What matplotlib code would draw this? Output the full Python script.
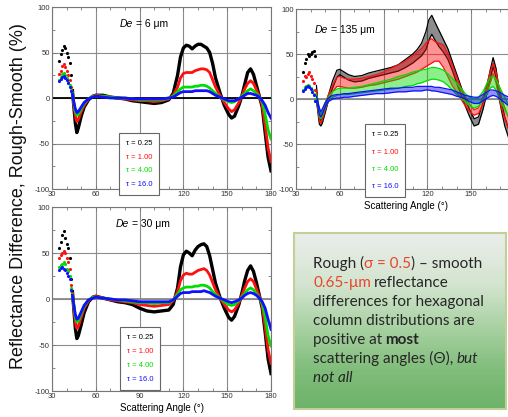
import numpy as np
import matplotlib
matplotlib.use("Agg")
import matplotlib.pyplot as plt
from matplotlib.colors import LinearSegmentedColormap
from matplotlib.lines import Line2D
from matplotlib.ticker import MultipleLocator, FixedLocator

plt.rcParams["font.family"] = ["Liberation Sans", "DejaVu Sans"]
plt.rcParams["axes.unicode_minus"] = False

# ---- data ----
taus = ["\u03c4 = 0.25", "\u03c4 = 1.00", "\u03c4 = 4.00", "\u03c4 = 16.0"]
colors = ["#000000", "#ff1010", "#00dd00", "#1010ff"]

ang_sparse = [35, 36, 37, 38, 39, 40, 41, 42, 43]
ang_main = [44, 45, 46, 47, 48, 50, 52, 55, 58, 60, 65, 70, 75, 80, 85, 90, 95, 100,
            105, 110, 113, 116, 118, 120, 122, 124, 126, 128, 130, 132, 134, 136,
            138, 140, 142, 145, 148, 151, 153, 155, 158, 160, 162, 164, 166, 168,
            170, 172, 174, 176, 178, 180]

# De = 6 um
de6_sp_k = [41, 48, 53, 57, 55, 50, 45, 38, 25]
de6_sp_r = [26, 30, 35, 37, 34, 30, 25, 20, 12]
de6_sp_g = [20, 23, 26, 27, 25, 22, 18, 14, 9]
de6_sp_b = [19, 21, 23, 24, 22, 20, 16, 12, 8]
de6_k = [8, -10, -28, -38, -33, -20, -10, -2, 2, 3, 3, 1, 0, -1, -3, -4, -5, -6,
         -5, -2, 5, 25, 45, 55, 58, 57, 54, 57, 59, 59, 57, 55,
         50, 38, 22, 6, -8, -18, -22, -20, -8, 2, 15, 28, 32, 26,
         14, 2, -10, -38, -65, -80]
de6_r = [6, -8, -20, -26, -24, -15, -8, -1, 2, 3, 2, 1, 0, -1, -2, -3, -3, -4,
         -3, -1, 3, 12, 22, 27, 28, 28, 28, 30, 31, 32, 32, 31,
         28, 20, 12, 3, -5, -12, -15, -13, -5, 2, 10, 16, 19, 16,
         9, 2, -8, -30, -55, -70]
de6_g = [5, -6, -15, -19, -18, -12, -6, -1, 2, 2, 2, 1, 0, 0, -1, -2, -2, -2,
         -2, 0, 2, 7, 10, 12, 12, 12, 12, 13, 13, 14, 14, 13,
         11, 8, 5, 1, -2, -4, -5, -4, -1, 2, 5, 8, 10, 8,
         5, 1, -4, -18, -35, -45]
de6_b = [4, -5, -12, -16, -15, -10, -5, -1, 1, 2, 1, 0, 0, 0, -1, -1, -1, -1,
         -1, 0, 1, 4, 6, 7, 7, 7, 7, 8, 8, 8, 8, 8,
         7, 5, 3, 1, -1, -3, -3, -3, -1, 1, 3, 5, 5, 4,
         3, 1, -3, -8, -16, -22]

# De = 30 um
de30_sp_k = [55, 62, 70, 74, 66, 60, 55, 45, 22]
de30_sp_r = [45, 48, 50, 52, 50, 45, 40, 33, 15]
de30_sp_g = [35, 37, 38, 40, 38, 33, 30, 25, 12]
de30_sp_b = [32, 34, 35, 33, 31, 28, 25, 22, 10]
de30_k = [8, -12, -32, -43, -40, -28, -15, -3, 2, 3, 1, -1, -3, -4, -6, -10, -13, -14,
          -13, -12, -6, 12, 35, 48, 52, 50, 47, 53, 57, 59, 60, 57,
          47, 32, 17, 2, -10, -20, -23, -19, -6, 6, 20, 31, 36, 30,
          18, 4, -10, -36, -65, -81]
de30_r = [6, -10, -25, -32, -30, -20, -10, -2, 2, 3, 1, -1, -2, -3, -4, -6, -7, -8,
          -7, -6, -2, 8, 20, 26, 28, 27, 27, 29, 31, 32, 33, 31,
          26, 18, 10, 1, -6, -12, -14, -12, -4, 4, 12, 19, 22, 19,
          11, 3, -8, -30, -55, -70]
de30_g = [5, -8, -20, -25, -24, -16, -8, -1, 2, 2, 1, 0, -1, -2, -3, -4, -4, -5,
          -4, -4, -1, 5, 10, 12, 13, 13, 13, 14, 14, 15, 15, 14,
          12, 8, 5, 1, -3, -6, -7, -6, -2, 2, 6, 10, 12, 10,
          6, 1, -5, -20, -40, -51]
de30_b = [4, -7, -17, -22, -21, -14, -7, -1, 1, 2, 1, 0, -1, -1, -2, -3, -3, -3,
          -3, -3, -1, 3, 6, 7, 7, 7, 8, 8, 8, 8, 9, 8,
          7, 5, 3, 1, -1, -3, -4, -3, -1, 1, 4, 6, 7, 6,
          4, 1, -3, -10, -22, -33]

# De = 135 um (wide bands: low / high edge)
ang_tr = [44, 45, 46, 47, 48, 50, 52, 55, 58, 60, 63, 66, 70, 75, 80, 85, 90, 95,
          100, 105, 110, 113, 116, 119, 121, 123, 125, 128, 131, 134, 137, 140,
          143, 146, 149, 152, 155, 158, 161, 163, 165, 167, 169, 171, 173, 176]
de135_sp_k = [30, 40, 45, 50, 48, 50, 52, 53, 48]
de135_sp_r = [20, 26, 25, 28, 30, 26, 22, 18, 10]
de135_sp_g = [10, 13, 15, 16, 14, 12, 10, 6, 0]
de135_sp_b = [9, 11, 13, 15, 13, 11, 8, 5, -2]
de135_k_lo = [0, -15, -28, -30, -27, -15, -3, 12, 24, 27, 24, 21, 19, 20, 23, 25, 27, 29,
              31, 35, 40, 44, 48, 55, 65, 72, 66, 58, 52, 44, 32, 18,
              5, -8, -20, -30, -28, -12, 8, 22, 36, 24, 2, -15, -30, -45]
de135_k_hi = [15, -5, -18, -24, -20, -8, 3, 20, 32, 33, 30, 27, 25, 26, 29, 31, 33, 35,
              38, 44, 50, 55, 62, 75, 88, 93, 86, 76, 66, 56, 42, 28,
              14, 0, -12, -22, -20, -4, 16, 32, 46, 34, 12, -5, -20, -35]
de135_r_lo = [-3, -12, -24, -27, -23, -12, -2, 8, 14, 14, 13, 12, 12, 13, 15, 16, 18, 20,
              22, 25, 28, 30, 33, 36, 38, 40, 42, 42, 35, 25, 15, 8,
              0, -8, -14, -18, -16, -6, 8, 18, 28, 18, 2, -12, -22, -35]
de135_r_hi = [8, -4, -14, -20, -16, -5, 4, 15, 24, 25, 23, 22, 22, 23, 25, 27, 30, 34,
              38, 42, 48, 52, 56, 62, 65, 67, 64, 62, 60, 50, 38, 25,
              12, 2, -6, -12, -10, 2, 18, 30, 40, 30, 14, 0, -10, -22]
de135_g_lo = [-3, -10, -20, -22, -19, -10, -3, 2, 4, 5, 5, 5, 6, 7, 8, 9, 10, 11,
              12, 14, 15, 17, 18, 20, 21, 22, 22, 21, 19, 15, 10, 5,
              1, -3, -8, -10, -8, -2, 6, 12, 14, 10, 2, -6, -12, -20]
de135_g_hi = [5, -3, -12, -16, -13, -4, 2, 8, 11, 12, 12, 12, 13, 14, 16, 18, 20, 22,
              25, 27, 30, 31, 32, 33, 34, 35, 35, 34, 32, 28, 23, 18,
              12, 6, 2, 0, 2, 8, 18, 24, 26, 22, 15, 8, 2, -8]
de135_b_lo = [-3, -9, -18, -20, -17, -9, -3, 0, 1, 1, 2, 2, 3, 4, 5, 6, 6, 7,
              8, 8, 9, 9, 9, 10, 10, 9, 9, 8, 7, 6, 5, 3,
              2, 0, -3, -5, -5, -2, 1, 3, 4, 3, 1, -2, -4, -8]
de135_b_hi = [3, -3, -10, -14, -11, -4, 1, 4, 5, 5, 6, 6, 7, 8, 9, 10, 11, 12,
              12, 13, 13, 14, 14, 14, 14, 14, 13, 13, 12, 11, 10, 8,
              6, 4, 3, 2, 2, 5, 8, 10, 10, 9, 8, 6, 4, 2]

W, H = 508, 417
fig = plt.figure(figsize=(W / 100, H / 100), dpi=100)


def px_rect(x0, y0, x1, y1):
    return [x0 / W, 1 - y1 / H, (x1 - x0) / W, (y1 - y0) / H]


def put_runs(x, y, runs, size, family):
    # place text pieces one after another on a baseline (pixel coords)
    r = fig.canvas.get_renderer()
    for s, color, weight, style, gap in runs:
        x += gap
        t = fig.text(x / W, 1 - y / H, s, color=color, fontsize=size,
                     fontweight=weight, fontstyle=style, family=family,
                     va="baseline", ha="left")
        x += t.get_window_extent(r).width


def setup(ax, zero_color):
    ax.set_xlim(30, 180)
    ax.set_ylim(-100, 100)
    ax.xaxis.set_major_locator(MultipleLocator(30))
    ax.xaxis.set_minor_locator(MultipleLocator(10))
    ax.yaxis.set_major_locator(MultipleLocator(50))
    ax.yaxis.set_minor_locator(MultipleLocator(25))
    ax.tick_params(which="both", direction="in", top=True, right=True,
                   colors="#777777", labelcolor="#333333", labelsize=5.5,
                   width=0.6, pad=1.5)
    ax.tick_params(which="major", length=3)
    ax.tick_params(which="minor", length=2)
    ax.grid(which="major", color="#8c8c8c", lw=0.8)
    ax.axhline(0, color=zero_color, lw=1.3, zorder=1.6)
    for s in ax.spines.values():
        s.set_color("#777777")
        s.set_linewidth(0.8)
    ax.set_axisbelow(True)


def legend(ax, x0, y1, spacing):
    hs = [Line2D([], [], ls="none") for _ in taus]
    leg = ax.legend(hs, taus, loc="upper left", bbox_to_anchor=(x0, y1),
                    fontsize=5.5, handlelength=0, handletextpad=0,
                    borderpad=0.9, labelspacing=spacing, fancybox=False,
                    framealpha=1, edgecolor="#666666", borderaxespad=0)
    leg.get_frame().set_linewidth(0.8)
    for t, c in zip(leg.get_texts(), colors):
        t.set_color(c)


def draw_lines(ax, sparse, main):
    for sv, mv, c in zip(sparse, main, colors):
        ax.plot(ang_sparse, sv, ls="none", marker=".", ms=2.5, color=c, zorder=3)
        ax.plot(ang_main, mv, color=c, lw=2.4 if c == "#000000" else 2.0,
                solid_joinstyle="round", zorder=3)


# top left: De = 6
ax1 = fig.add_axes(px_rect(52, 7, 271, 189))
setup(ax1, "#000000")
draw_lines(ax1, [de6_sp_k, de6_sp_r, de6_sp_g, de6_sp_b], [de6_k, de6_r, de6_g, de6_b])
legend(ax1, 0.306, 0.31, 0.85)

# top right: De = 135 (panel runs past the right edge, as in the source slide)
ax2 = fig.add_axes(px_rect(296, 9, 515, 189))
setup(ax2, "#8a8a8a")
ax2.xaxis.set_major_locator(FixedLocator([30, 60, 90, 120, 150]))
for sv, lo, hi, c in zip([de135_sp_k, de135_sp_r, de135_sp_g, de135_sp_b],
                         [de135_k_lo, de135_r_lo, de135_g_lo, de135_b_lo],
                         [de135_k_hi, de135_r_hi, de135_g_hi, de135_b_hi], colors):
    ax2.plot(ang_sparse, sv, ls="none", marker=".", ms=2.5, color=c, zorder=3)
    ax2.fill_between(ang_tr, lo, hi, color=c, alpha=0.45, lw=0, zorder=3)
    ax2.plot(ang_tr, lo, color=c, lw=0.9, zorder=3)
    ax2.plot(ang_tr, hi, color=c, lw=0.9, zorder=3)
ax2.set_xlabel("Scattering Angle (\u00b0)", fontsize=7, labelpad=2)
legend(ax2, 0.315, 0.36, 1.3)

# bottom left: De = 30
ax3 = fig.add_axes(px_rect(52, 207, 271, 391))
setup(ax3, "#8a8a8a")
draw_lines(ax3, [de30_sp_k, de30_sp_r, de30_sp_g, de30_sp_b], [de30_k, de30_r, de30_g, de30_b])
ax3.set_xlabel("Scattering Angle (\u00b0)", fontsize=7, labelpad=2)
legend(ax3, 0.31, 0.35, 0.9)

fig.text(0.037, 0.53, "Reflectance Difference, Rough-Smooth (%)", rotation=90,
         fontsize=13, ha="center", va="center", color="#111111")

# De labels
sans = ["Liberation Sans", "DejaVu Sans"]
put_runs(120, 27, [("De", "k", "normal", "italic", 0), ("= 6 \u03bcm", "k", "normal", "normal", 2.5)], 7.5, sans)
put_runs(315, 33, [("De", "k", "normal", "italic", 0), ("= 135 \u03bcm", "k", "normal", "normal", 2.5)], 7.5, sans)
put_runs(116, 227, [("De", "k", "normal", "italic", 0), ("= 30 \u03bcm", "k", "normal", "normal", 2.5)], 7.5, sans)

# text box with gradient
bx = fig.add_axes(px_rect(294, 233, 506, 409))
grad = np.linspace(0, 1, 256).reshape(-1, 1)
cmap = LinearSegmentedColormap.from_list(
    "box", [(0, "#eceeec"), (0.3, "#d2e4ce"), (0.55, "#a6d0a0"), (0.78, "#80bd7b"), (1, "#6db36a")])
bx.imshow(grad, aspect="auto", cmap=cmap, extent=[0, 1, 0, 1], origin="upper")
bx.set_xticks([])
bx.set_yticks([])
for s in bx.spines.values():
    s.set_color("#c2cf96")
    s.set_linewidth(1.5)

txt = "#262626"
red = "#e8452c"
fam = ["Lato", "DejaVu Sans"]
sz = 11
sp = 3.2
lines = [
    [("Rough (", txt, "normal", "normal", 0), ("\u03c3 = 0.5", red, "normal", "normal", 0),
     (") \u2013 smooth", txt, "normal", "normal", 0)],
    [("0.65-\u03bcm", red, "normal", "normal", 0), ("reflectance", txt, "normal", "normal", sp)],
    [("differences for hexagonal", txt, "normal", "normal", 0)],
    [("column distributions are", txt, "normal", "normal", 0)],
    [("positive at", txt, "normal", "normal", 0), ("most", txt, "bold", "normal", sp)],
    [("scattering angles (\u0398),", txt, "normal", "normal", 0), ("but", txt, "normal", "italic", sp)],
    [("not all", txt, "normal", "italic", 0)],
]
for i, ln in enumerate(lines):
    put_runs(313, 268 + 19 * i, ln, sz, fam)

fig.savefig("out.png", dpi=100)
